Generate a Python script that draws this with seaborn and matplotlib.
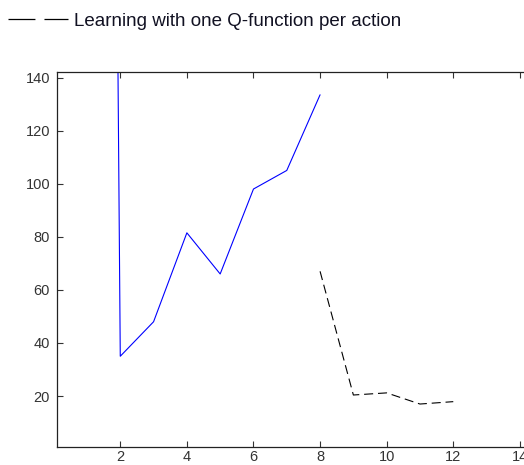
import matplotlib
matplotlib.use("Agg")
import matplotlib.pyplot as plt
import seaborn as sns
import pandas as pd
from matplotlib.lines import Line2D

sns.set_theme(style="white")
plt.rcParams['font.family'] = ['Liberation Sans', 'DejaVu Sans']
plt.rcParams['lines.scale_dashes'] = False

# Data
blue_x = [1, 2, 3, 4, 5, 6, 7, 8]
blue_y = [1600, 35, 48, 81.5, 66, 98, 105, 133.5]
black_x = [8, 9, 10, 11, 12]
black_y = [67, 20.4, 21.2, 17, 17.9]
legend_label = "Learning with one Q-function per action"
xticks = [2, 4, 6, 8, 10, 12, 14]
yticks = [20, 40, 60, 80, 100, 120, 140]

df_blue = pd.DataFrame({"x": blue_x, "y": blue_y})
df_black = pd.DataFrame({"x": black_x, "y": black_y})

W, H = 524, 465
fig = plt.figure(figsize=(W / 100, H / 100), dpi=100)
left_px, top_px, bottom_px = 57, 71.7, 447.3
x0 = 0.1
ppu = 33.3
xmax = 16.0
right_px = left_px + (xmax - x0) * ppu
ax = fig.add_axes([left_px / W, (H - bottom_px) / H,
                   (right_px - left_px) / W, (bottom_px - top_px) / H])

sns.lineplot(data=df_blue, x="x", y="y", ax=ax, color=(0, 0, 1),
             linewidth=0.8, estimator=None, sort=False)
sns.lineplot(data=df_black, x="x", y="y", ax=ax, color="black",
             linewidth=0.8, estimator=None, sort=False,
             dashes=False)
ax.lines[-1].set_dashes((6.5, 3.5))

ax.set_xlim(x0, xmax)
ax.set_ylim(0.7, 142.2)
ax.set_xticks(xticks)
ax.set_yticks(yticks)
ax.set_xlabel("")
ax.set_ylabel("")
ax.tick_params(direction="in", length=4, width=0.8, colors="#333333",
               labelsize=10.5, top=True, bottom=True, left=True, right=False)
ax.tick_params(axis="y", pad=5)
ax.tick_params(axis="x", pad=2)
for s in ax.spines.values():
    s.set_color("#222222")
    s.set_linewidth(0.9)

# legend above axes
handle = Line2D([0], [0], color="black", linewidth=0.9, dashes=(19.4, 6.5))
fig.legend([handle], [legend_label], loc="upper left",
           bbox_to_anchor=(0.0, 1.0 - 4 / H), frameon=False, fontsize=13.5,
           handlelength=3.15, handletextpad=0.35, borderaxespad=0.3,
           borderpad=0.15, labelcolor="#111122")

fig.savefig("out.png", dpi=100)
